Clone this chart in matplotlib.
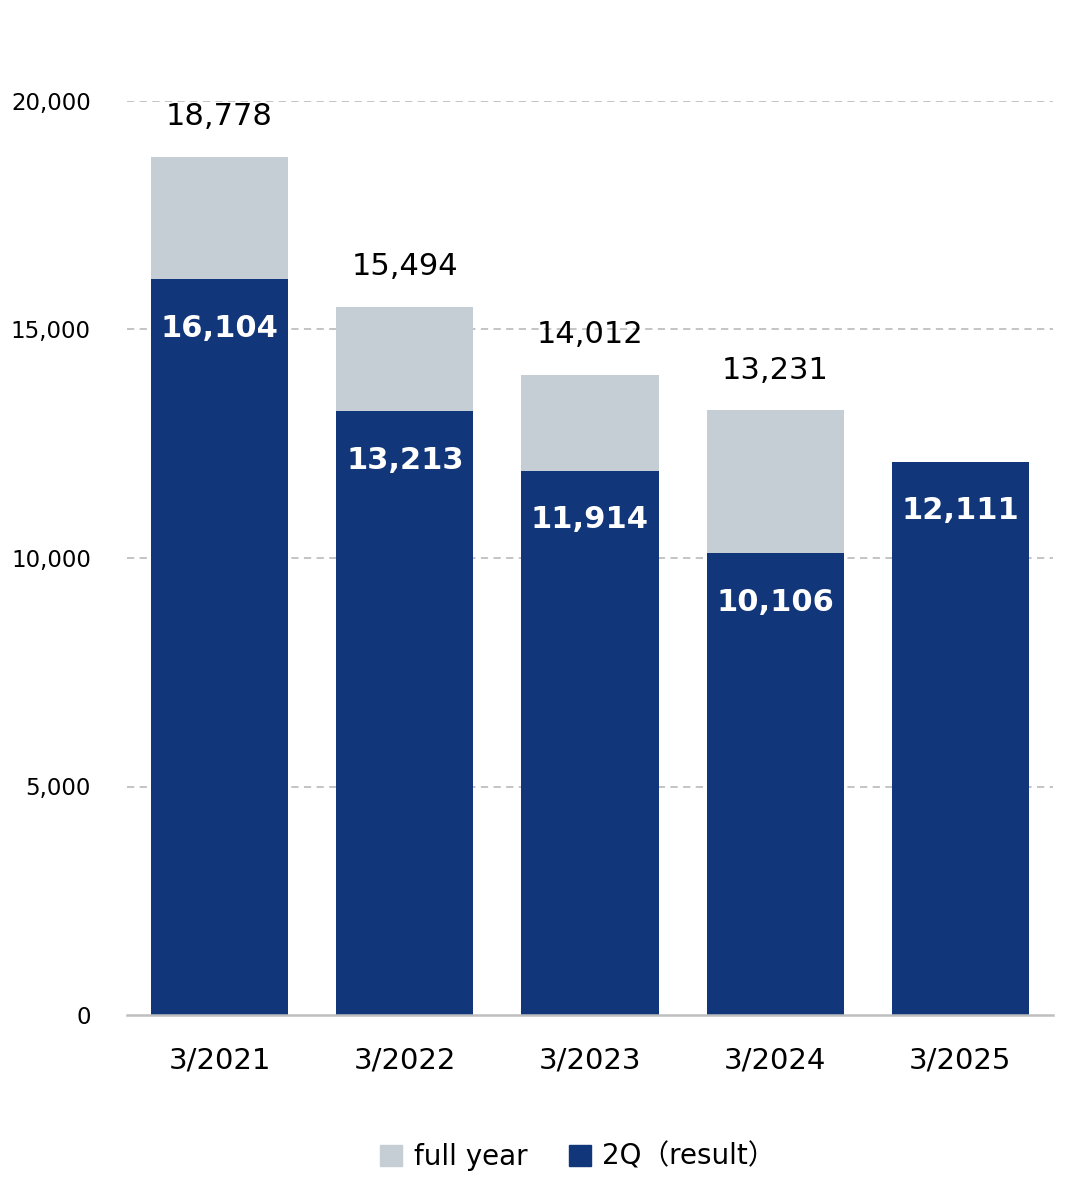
from matplotlib import pyplot as plt
from matplotlib.patches import Patch

periods = ["3/2021", "3/2022", "3/2023", "3/2024", "3/2025"]
full_year = [18778, 15494, 14012, 13231, None]
q2_result = [16104, 13213, 11914, 10106, 12111]

gray = "#C5CED5"
navy = "#12367A"

fig = plt.figure(figsize=(10.8, 11.89), dpi=100)
ax = fig.add_axes([127 / 1080, 1 - 1015 / 1189, 926 / 1080, 914 / 1189])

x = list(range(len(periods)))
width = 0.74

fy_x = [i for i, v in zip(x, full_year) if v is not None]
fy_v = [v for v in full_year if v is not None]
ax.bar(fy_x, fy_v, width=width, color=gray, zorder=2)
ax.bar(x, q2_result, width=width, color=navy, zorder=3)

# value labels
for i, v in zip(fy_x, fy_v):
    ax.annotate(f"{v:,}", (i, v), xytext=(0, 40), textcoords="offset pixels",
                ha="center", va="center", fontsize=22, color="black", zorder=5)
for i, v in zip(x, q2_result):
    ax.annotate(f"{v:,}", (i, v), xytext=(0, -49), textcoords="offset pixels",
                ha="center", va="center", fontsize=22, fontweight="bold",
                color="white", zorder=5)

ax.set_xlim(-0.5, len(periods) - 0.5)
ax.set_ylim(0, 20000)
ax.set_yticks([0, 5000, 10000, 15000, 20000])
ax.set_yticklabels([f"{v:,}" for v in [0, 5000, 10000, 15000, 20000]], fontsize=16.5)
ax.set_xticks(x)
ax.set_xticklabels(periods, fontsize=21)
ax.tick_params(axis="y", length=0, pad=26)
ax.tick_params(axis="x", length=0, pad=23)

for y in [5000, 10000, 15000, 20000]:
    ax.axhline(y, color="#BFBFBF", linestyle=(0, (4, 3)), linewidth=1.3, zorder=1)

for s in ["top", "right", "left"]:
    ax.spines[s].set_visible(False)
ax.spines["bottom"].set_color("#BFBFBF")
ax.spines["bottom"].set_linewidth(1.8)
ax.spines["bottom"].set_zorder(4)

handles = [Patch(color=gray, label="full year"), Patch(color=navy, label="2Q（result）")]
fig.legend(handles=handles, loc="center", bbox_to_anchor=(578 / 1080, 1 - 1157 / 1189),
           ncol=2, frameon=False, handlelength=0.8, handleheight=0.8,
           handletextpad=0.4, columnspacing=1.5,
           prop={"family": ["DejaVu Sans", "Noto Sans CJK JP"], "size": 20})

plt.savefig("out.png", dpi=100)
